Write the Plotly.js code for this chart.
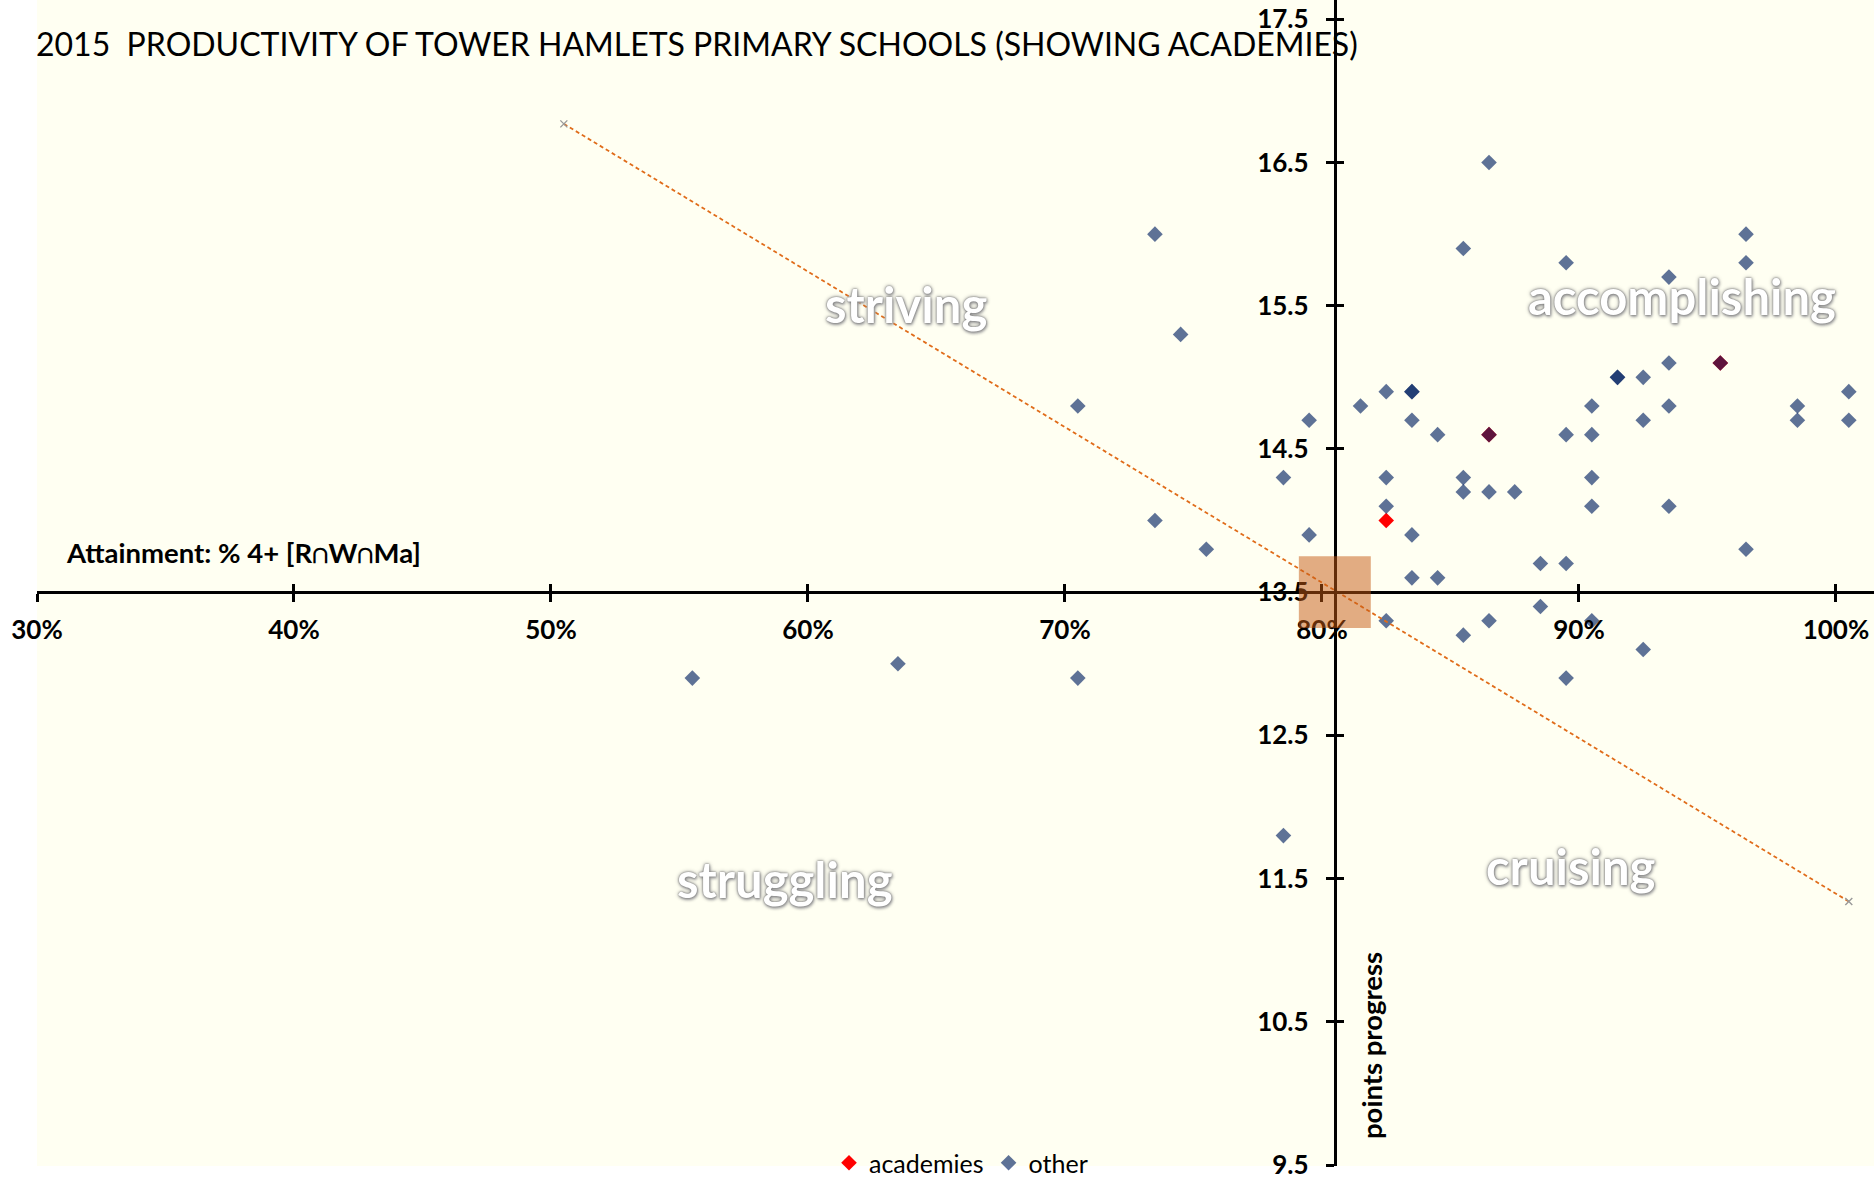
<!DOCTYPE html>
<html>
<head>
<meta charset="utf-8">
<script src="https://cdn.plot.ly/plotly-3.0.1.min.js"></script>
<style>
  html, body { margin: 0; padding: 0; background: #ffffff; }
  #chart { width: 1874px; height: 1177px; }
</style>
</head>
<body>
<div id="chart"></div>
<script>
// ---- Data (attainment % , points progress) ----
const academiesX = [82.5, 86.5, 95.5];
const academiesY = [14.0, 14.6, 15.1];

const otherX = [
  86.5, 73.5, 85.5, 89.5, 96.5, 96.5, 93.5, 74.5, 93.5, 95.5,
  91.5, 91.5, 92.5, 82.5, 83.5, 83.5, 100.5, 70.5, 81.5, 90.5,
  93.5, 98.5, 79.5, 83.5, 92.5, 98.5, 100.5, 84.5, 86.5, 89.5,
  90.5, 78.5, 82.5, 85.5, 90.5, 85.5, 86.5, 87.5, 82.5, 90.5,
  93.5, 73.5, 79.5, 83.5, 75.5, 96.5, 88.5, 89.5, 83.5, 84.5,
  88.5, 82.5, 86.5, 90.5, 85.5, 92.5, 63.5, 55.5, 70.5, 89.5,
  78.5
];
const otherY = [
  16.5, 16.0, 15.9, 15.8, 16.0, 15.8, 15.7, 15.3, 15.1, 15.1,
  15.0, 15.0, 15.0, 14.9, 14.9, 14.9, 14.9, 14.8, 14.8, 14.8,
  14.8, 14.8, 14.7, 14.7, 14.7, 14.7, 14.7, 14.6, 14.6, 14.6,
  14.6, 14.3, 14.3, 14.3, 14.3, 14.2, 14.2, 14.2, 14.1, 14.1,
  14.1, 14.0, 13.9, 13.9, 13.8, 13.8, 13.7, 13.7, 13.6, 13.6,
  13.4, 13.3, 13.3, 13.3, 13.2, 13.1, 13.0, 12.9, 12.9, 12.9,
  11.8
];

// trend line end points
const trendX = [50.5, 100.5];
const trendY = [16.77, 11.34];

// axes crossing point (highlighted box)
const crossX = 80.5;
const crossY = 13.5;
const boxHalfX = 1.4;
const boxHalfY = 0.25;

// ticks
const xTick0 = 30, xDtick = 10;
const yTick0 = 9.5, yDtick = 1;

const quadrantLabels = ["striving", "accomplishing", "struggling", "cruising"];
const quadrantX = [63.8, 94.0, 59.1, 89.7];
const quadrantY = [15.515, 15.565, 11.495, 11.585];

// ---- Layout geometry ----
const W = 1874, H = 1177;
const M = { l: 37, r: 0, t: 0, b: 11 };
const plotW = W - M.l - M.r, plotH = H - M.t - M.b;
const px2paperX = (px) => (px - M.l) / plotW;
const px2paperY = (py) => (H - M.b - py) / plotH;

const xRange = [30, 101.48];
const yRange = [9.493, 17.635];
const posY = (crossX - xRange[0]) / (xRange[1] - xRange[0]);
const posX = (crossY - yRange[0]) / (yRange[1] - yRange[0]);

const FONT = 'Lato, "DejaVu Sans", sans-serif';

const traces = [
  {
    type: 'scatter', mode: 'markers', name: 'academies',
    x: academiesX, y: academiesY,
    marker: { symbol: 'diamond', size: 12, color: '#ff0000' },
    hoverinfo: 'x+y'
  },
  {
    type: 'scatter', mode: 'markers', name: 'other',
    x: otherX, y: otherY,
    marker: { symbol: 'diamond', size: 12, color: 'rgba(0,32,96,0.63)' },
    hoverinfo: 'x+y'
  },
  {
    type: 'scatter', mode: 'lines+markers', name: 'trend',
    x: trendX, y: trendY, showlegend: false,
    line: { color: '#e06c1a', width: 1.8, dash: '4px,3px' },
    marker: { symbol: 'x-thin', size: 7, color: '#999999', line: { color: '#999999', width: 1.4 } },
    hoverinfo: 'skip'
  },
  {
    type: 'scatter', mode: 'markers', x: [], y: [],
    xaxis: 'x2', yaxis: 'y2', showlegend: false, hoverinfo: 'skip'
  }
];

const tickFont = { family: FONT, size: 26, color: '#000000', weight: 700 };

const annotations = quadrantLabels.map((t, i) => ({
  text: t, x: quadrantX[i], y: quadrantY[i], xref: 'x', yref: 'y',
  showarrow: false, xanchor: 'center', yanchor: 'middle',
  font: { family: FONT, size: 49, color: '#ffffff', weight: 700,
          shadow: '0px 0px 2px #666, 0px 0px 4px #999, 1px 2px 3px #aaa' }
}));

annotations.push({
  text: 'Attainment: % 4+ [R∩W∩Ma]',
  xref: 'paper', yref: 'paper', x: px2paperX(64), y: px2paperY(552),
  xanchor: 'left', yanchor: 'middle', showarrow: false,
  font: { family: FONT, size: 27.5, color: '#000000', weight: 700 }
});
annotations.push({
  text: 'points progress',
  xref: 'paper', yref: 'paper', x: px2paperX(1371), y: px2paperY(1046),
  xanchor: 'center', yanchor: 'middle', showarrow: false, textangle: -90,
  font: { family: FONT, size: 27.5, color: '#000000', weight: 700 }
});

const layout = {
  width: W, height: H,
  margin: { l: M.l, r: M.r, t: M.t, b: M.b, pad: 0, autoexpand: false },
  paper_bgcolor: '#ffffff',
  plot_bgcolor: '#fffff2',
  font: { family: FONT, color: '#000000' },
  title: {
    text: '2015  PRODUCTIVITY OF TOWER HAMLETS PRIMARY SCHOOLS (SHOWING ACADEMIES)',
    xref: 'container', x: 36 / W, xanchor: 'left',
    yref: 'container', y: 1 - 45 / H, yanchor: 'middle',
    font: { family: FONT, size: 32, color: '#000000' }
  },
  xaxis: {
    range: xRange, anchor: 'free', position: posX,
    tick0: xTick0, dtick: xDtick, ticksuffix: '%',
    showgrid: false, zeroline: false,
    showline: true, linecolor: '#000000', linewidth: 3,
    ticks: 'outside', ticklen: 8, tickwidth: 3, tickcolor: '#000000',
    tickfont: tickFont, ticklabelstandoff: 6, ticklabeloverflow: 'allow'
  },
  yaxis: {
    range: yRange, anchor: 'free', position: posY, side: 'left',
    tick0: yTick0, dtick: yDtick, tickformat: '.1f',
    showgrid: false, zeroline: false,
    showline: true, linecolor: '#000000', linewidth: 3,
    ticks: 'outside', ticklen: 8, tickwidth: 3, tickcolor: '#000000',
    tickfont: tickFont, ticklabelstandoff: 12, ticklabeloverflow: 'allow'
  },
  xaxis2: {
    overlaying: 'x', matches: 'x', anchor: 'free', position: posX, side: 'bottom',
    tick0: xTick0, dtick: xDtick, showticklabels: false,
    showgrid: false, zeroline: false, showline: false,
    ticks: 'inside', ticklen: 8, tickwidth: 3, tickcolor: '#000000'
  },
  yaxis2: {
    overlaying: 'y', matches: 'y', anchor: 'free', position: posY, side: 'left',
    tick0: yTick0, dtick: yDtick, showticklabels: false,
    showgrid: false, zeroline: false, showline: false,
    ticks: 'inside', ticklen: 8, tickwidth: 3, tickcolor: '#000000'
  },
  shapes: [{
    type: 'rect', layer: 'above', xref: 'x', yref: 'y',
    x0: crossX - boxHalfX, x1: crossX + boxHalfX,
    y0: crossY - boxHalfY, y1: crossY + boxHalfY,
    fillcolor: 'rgba(197,90,17,0.5)', line: { width: 0 }
  }],
  annotations: annotations,
  legend: {
    orientation: 'h', xref: 'paper', yref: 'paper',
    x: px2paperX(961), xanchor: 'center', y: px2paperY(1163), yanchor: 'middle',
    bgcolor: 'rgba(0,0,0,0)',
    font: { family: FONT, size: 25, color: '#000000' }
  },
  showlegend: true,
  hovermode: 'closest'
};

Plotly.newPlot('chart', traces, layout, { displayModeBar: false, staticPlot: true });
</script>
</body>
</html>
